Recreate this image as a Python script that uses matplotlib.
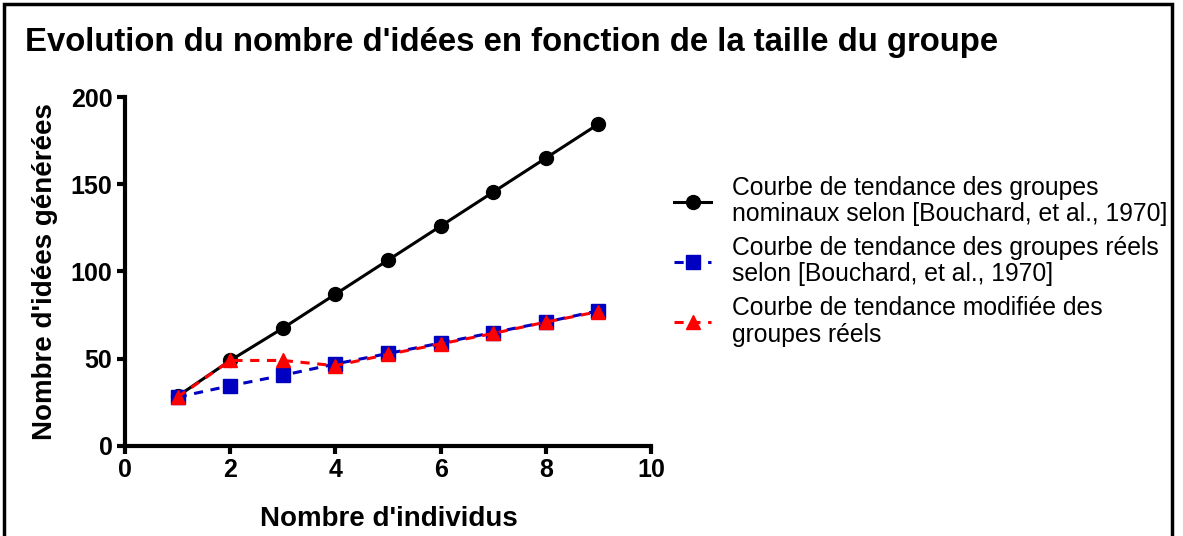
import matplotlib.pyplot as plt
from matplotlib.patches import Rectangle

plt.rcParams["font.family"] = ["Liberation Sans", "DejaVu Sans"]

individus = [1, 2, 3, 4, 5, 6, 7, 8, 9]
nominaux = [28.5, 49, 67.5, 87, 106.5, 126, 145.5, 165, 184.5]
reels = [28, 34.5, 40.5, 47, 53, 59, 65, 71, 77.5]
reels_modifies = [28, 49, 49, 46, 52.5, 58.5, 64.5, 71, 77]

labels = [
    "Courbe de tendance des groupes\nnominaux selon [Bouchard, et al., 1970]",
    "Courbe de tendance des groupes réels\nselon [Bouchard, et al., 1970]",
    "Courbe de tendance modifiée des\ngroupes réels",
]

fig = plt.figure(figsize=(11.83, 5.36), dpi=100)
ax = fig.add_axes([0.1057, 0.168, 0.4446, 0.651])

ax.plot(individus, nominaux, color="black", lw=2.2, marker="o", ms=10,
        label=labels[0], zorder=3)
ax.plot(individus, reels, color="#0000c0", lw=2.2, ls=(0, (3, 2.5)), marker="s",
        ms=10, label=labels[1], zorder=4)
ax.plot(individus, reels_modifies, color="red", lw=2.2, ls=(0, (3, 2.5)), marker="^",
        ms=10, label=labels[2], zorder=5)

ax.set_xlim(0, 10)
ax.set_ylim(0, 200)
ax.set_xticks([0, 2, 4, 6, 8, 10])
ax.set_yticks([0, 50, 100, 150, 200])
for side in ["top", "right"]:
    ax.spines[side].set_visible(False)
for side in ["left", "bottom"]:
    ax.spines[side].set_linewidth(3)
ax.tick_params(width=3, length=6, pad=3, labelsize=18)
for lab in ax.get_xticklabels() + ax.get_yticklabels():
    lab.set_fontweight("bold")

ax.set_xlabel("Nombre d'individus", fontsize=20, fontweight="bold")
ax.set_ylabel("Nombre d'idées générées", fontsize=20, fontweight="bold")
ax.xaxis.set_label_coords(0.502, -0.21)
ax.yaxis.set_label_coords(-0.152, 0.5)
ax.xaxis.label.set_va("center")
ax.yaxis.label.set_va("center")

fig.text(25 / 1183, 1 - 42 / 536, "Evolution du nombre d'idées en fonction de la taille du groupe",
         fontsize=23.7, fontweight="bold", va="center", ha="left")

leg = ax.legend(loc="upper left", bbox_to_anchor=(674 / 1183, 1 - 176 / 536),
                bbox_transform=fig.transFigure, frameon=False, fontsize=17.8,
                handlelength=1.5, handletextpad=0.85, labelspacing=0.4,
                borderpad=0, borderaxespad=0)
for t in leg.get_texts():
    t.set_linespacing(1.12)

fig.add_artist(Rectangle((4 / 1183, -0.1), 1168 / 1183, 1.1 - 4 / 536,
                         transform=fig.transFigure, fill=False, lw=2.5, ec="black"))

fig.savefig("out.png", dpi=100)
